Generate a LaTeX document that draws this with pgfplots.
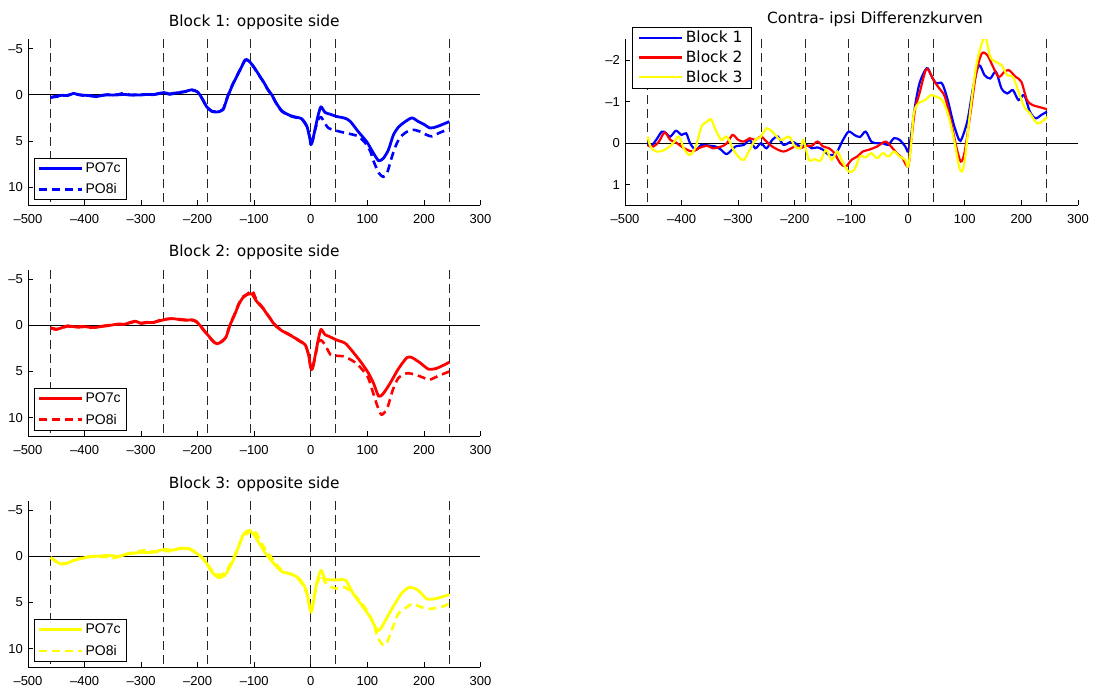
\documentclass[border=0pt]{standalone}
\usepackage{pgfplots}
\pgfplotsset{compat=1.18}
\usepackage{fontspec}
\setmainfont{Liberation Sans}
\newfontfamily\dejavu{DejaVu Sans}

\definecolor{mblue}{RGB}{0,0,255}
\definecolor{mred}{RGB}{255,0,0}
\definecolor{myellow}{RGB}{255,255,0}

\pgfplotsset{
  erp/.style={
    scale only axis, height=166pt,
    xmin=-500, xmax=300, y dir=reverse,
    axis x line*=bottom, axis y line*=left,
    tick align=inside, major tick length=5pt,
    xtick={-500,-400,-300,-200,-100,0,100,200,300},
    xticklabels={–500,–400,–300,–200,–100,0,100,200,300},
    tick label style={font=\fontsize{13}{13}\selectfont, inner sep=0pt},
    xticklabel shift=9pt, yticklabel shift=5pt,
    axis line style={line width=0.8pt},
    every tick/.style={black, line width=0.8pt},
    title style={font=\dejavu\fontsize{15.4}{16}\selectfont, anchor=base, at={(0.5,1)}, yshift=7pt},
    legend cell align=left,
    legend image code/.code={\draw[##1] (0pt,0pt) -- (43pt,0pt);},
  },
  single/.style={
    erp, width=452.5pt, ymin=-6, ymax=12,
    ytick={-5,0,5,10}, yticklabels={–5,0,5,10},
    legend style={at={(0.013,0.033)}, anchor=south west, draw=black, line width=0.8pt,
      font=\fontsize{14}{14}\selectfont, inner xsep=3pt, inner ysep=2pt, row sep=4.5pt,
      nodes={inner sep=2.5pt}},
  },
  vline/.style={black!85, line width=0.8pt, dash pattern=on 9pt off 5pt, forget plot},
  zline/.style={black, line width=0.8pt, forget plot},
  cc/.style={line width=2.8pt, line join=round},
  ci/.style={line width=2.6pt, dash pattern=on 8pt off 5pt, line join=round},
}

% event markers and reference lines, shared by every panel
\newcommand{\markers}[2]{%
  \addplot[zline] coordinates {(-500,0) (300,0)};
  \addplot[vline] coordinates {(-460,#1) (-460,#2)};
  \addplot[vline] coordinates {(-260,#1) (-260,#2)};
  \addplot[vline] coordinates {(-182,#1) (-182,#2)};
  \addplot[vline] coordinates {(-106,#1) (-106,#2)};
  \addplot[vline] coordinates {(0,#1) (0,#2)};
  \addplot[vline] coordinates {(44,#1) (44,#2)};
  \addplot[vline] coordinates {(245,#1) (245,#2)};
}

\begin{document}
\begin{tikzpicture}
\path[use as bounding box] (0pt,0pt) rectangle (1095pt,688pt);

% ---------------- Block 1 ----------------
\begin{axis}[single, at={(28pt,482.5pt)}, anchor=south west, title={Block 1: opposite side}]
\markers{-6}{12}
\addplot[cc, mblue, smooth, tension=0.4] coordinates {
(-460,0.3)(-450,0.15)(-440,0.05)(-430,0.08)(-420,-0.15)(-410,-0.02)(-400,0.05)(-390,0.08)(-380,0.2)(-370,0.08)(-360,0.0)(-350,0.03)(-340,0.0)(-330,-0.05)(-320,0.02)(-310,0.0)(-300,0.02)(-290,-0.05)(-280,-0.02)(-270,-0.1)(-260,-0.25)(-250,-0.1)(-240,-0.2)(-230,-0.25)(-220,-0.4)(-210,-0.55)(-200,-0.3)(-192,0.4)(-184,1.3)(-175,1.8)(-165,1.85)(-155,1.6)(-147,0.2)(-137,-1.25)(-125,-2.7)(-116,-3.8)(-110,-3.7)(-101,-3.05)(-92,-2.2)(-84,-1.45)(-76,-0.6)(-69,0.0)(-60,1.0)(-51,1.75)(-40,2.15)(-31,2.35)(-16,2.6)(-7,3.4)(-2,4.6)(0,5.4)(3,5.0)(8,3.6)(13,2.2)(18,1.3)(25,1.9)(34,2.1)(46,2.35)(61,2.55)(70,2.9)(84,4.0)(99,5.1)(111,6.35)(120,7.15)(128,6.9)(137,6.0)(146,4.35)(155,3.5)(167,2.9)(179,2.5)(190,2.9)(200,3.2)(211,3.6)(223,3.45)(245,2.9)
};
\addlegendentry{PO7c}
\addplot[ci, mblue, smooth, tension=0.4] coordinates {
(-460,0.25)(-450,0.2)(-440,0.08)(-430,0.05)(-420,-0.1)(-410,0.0)(-400,0.1)(-390,0.12)(-380,0.15)(-370,0.05)(-360,-0.02)(-350,0.0)(-340,-0.05)(-330,-0.2)(-320,0.0)(-310,0.02)(-300,-0.02)(-290,-0.05)(-280,0.0)(-270,-0.15)(-260,-0.2)(-250,-0.05)(-240,-0.15)(-230,-0.3)(-220,-0.35)(-210,-0.5)(-200,-0.3)(-192,0.45)(-184,1.3)(-175,1.75)(-165,1.8)(-155,1.55)(-147,0.15)(-137,-1.3)(-125,-2.75)(-116,-3.75)(-110,-3.65)(-101,-3.0)(-92,-2.15)(-84,-1.4)(-76,-0.55)(-69,0.05)(-60,1.05)(-51,1.8)(-40,2.2)(-31,2.4)(-16,2.65)(-7,3.45)(-2,4.6)(0,5.35)(3,5.0)(8,3.7)(13,2.7)(18,2.4)(25,3.1)(31,3.6)(40,3.8)(52,4.0)(70,4.25)(84,4.5)(96,5.2)(105,6.1)(111,7.2)(120,8.45)(128,8.9)(135,8.45)(144,6.6)(150,5.55)(158,4.6)(170,4.0)(182,3.8)(194,4.0)(205,4.35)(214,4.5)(228,4.1)(245,3.7)
};
\addlegendentry{PO8i}
\end{axis}

% ---------------- Block 2 ----------------
\begin{axis}[single, at={(28pt,252pt)}, anchor=south west, title={Block 2: opposite side}]
\markers{-6}{12}
\addplot[cc, mred, smooth, tension=0.4] coordinates {
(-460,0.3)(-450,0.45)(-440,0.25)(-430,0.05)(-420,0.15)(-410,0.2)(-400,0.15)(-390,0.2)(-380,0.22)(-370,0.12)(-360,0.05)(-350,-0.05)(-340,-0.15)(-330,-0.1)(-320,-0.3)(-310,-0.45)(-300,-0.2)(-290,-0.3)(-280,-0.3)(-270,-0.45)(-260,-0.6)(-250,-0.72)(-240,-0.7)(-230,-0.6)(-220,-0.55)(-210,-0.6)(-203,-0.45)(-196,0.0)(-188,0.6)(-180,1.2)(-172,1.75)(-166,2.0)(-158,1.8)(-150,1.3)(-143,0.0)(-135,-1.1)(-127,-2.3)(-120,-3.0)(-112,-3.35)(-104,-3.4)(-97,-2.7)(-90,-2.2)(-84,-1.8)(-75,-1.0)(-63,0.0)(-52,0.55)(-42,0.9)(-30,1.3)(-19,1.75)(-10,2.1)(-4,3.2)(0,4.65)(3,4.7)(8,3.2)(13,1.6)(18,0.45)(25,1.0)(34,1.25)(46,1.6)(61,1.95)(76,3.0)(90,4.1)(102,5.2)(111,6.3)(120,7.7)(128,7.4)(140,6.3)(155,4.7)(170,3.5)(179,3.5)(194,4.1)(208,4.75)(223,4.65)(245,4.0)
};
\addlegendentry{PO7c}
\addplot[ci, mred, smooth, tension=0.4] coordinates {
(-460,0.25)(-450,0.4)(-440,0.3)(-430,0.1)(-420,0.2)(-410,0.15)(-400,0.1)(-390,0.25)(-380,0.2)(-370,0.1)(-360,0.0)(-350,-0.1)(-340,-0.1)(-330,-0.15)(-320,-0.25)(-310,-0.4)(-300,-0.25)(-290,-0.35)(-280,-0.25)(-270,-0.5)(-260,-0.65)(-250,-0.7)(-240,-0.75)(-230,-0.65)(-220,-0.6)(-210,-0.55)(-203,-0.4)(-196,0.05)(-188,0.65)(-180,1.25)(-172,1.8)(-166,2.0)(-158,1.75)(-150,1.25)(-143,-0.05)(-135,-1.2)(-127,-2.4)(-120,-3.1)(-112,-3.4)(-104,-3.8)(-97,-2.9)(-90,-2.3)(-84,-1.85)(-75,-1.05)(-63,-0.05)(-52,0.5)(-42,0.85)(-30,1.25)(-19,1.7)(-10,2.05)(-4,3.2)(0,4.6)(3,4.65)(8,3.3)(13,1.9)(18,1.6)(25,2.1)(35,3.2)(45,3.3)(60,3.4)(80,4.1)(100,5.5)(110,7.3)(118,8.8)(125,9.7)(135,9.0)(145,7.0)(155,5.7)(170,5.2)(185,5.35)(200,5.7)(210,5.9)(225,5.5)(245,5.0)
};
\addlegendentry{PO8i}
\end{axis}

% ---------------- Block 3 ----------------
\begin{axis}[single, at={(28pt,21pt)}, anchor=south west, title={Block 3: opposite side}]
\markers{-6}{12}
\addplot[cc, myellow, smooth, tension=0.4] coordinates {
(-460,0.15)(-450,0.6)(-440,0.85)(-430,0.75)(-420,0.45)(-410,0.3)(-400,0.15)(-390,0.05)(-380,0.0)(-370,-0.05)(-360,-0.1)(-350,-0.05)(-340,0.0)(-330,-0.15)(-320,-0.3)(-310,-0.35)(-300,-0.45)(-290,-0.4)(-280,-0.45)(-270,-0.6)(-260,-0.75)(-250,-0.7)(-240,-0.7)(-230,-0.9)(-222,-0.85)(-215,-0.8)(-205,-0.45)(-195,0.0)(-185,0.7)(-175,1.7)(-163,2.3)(-152,2.05)(-140,0.8)(-130,-0.65)(-120,-2.3)(-110,-2.8)(-100,-2.3)(-90,-1.3)(-80,-0.3)(-70,0.45)(-60,1.15)(-50,1.7)(-35,1.9)(-20,2.45)(-8,3.7)(0,6.05)(4,5.15)(10,3.0)(18,1.5)(25,2.45)(35,2.55)(50,2.55)(62,2.6)(75,4.05)(90,5.3)(105,6.6)(118,8.05)(125,7.7)(140,6.05)(160,4.05)(175,3.35)(190,3.7)(205,4.6)(220,4.6)(245,4.15)
};
\addlegendentry{PO7c}
\addplot[ci, myellow, smooth, tension=0.4] coordinates {
(-460,0.1)(-450,0.55)(-440,0.8)(-430,0.7)(-420,0.5)(-410,0.25)(-400,0.1)(-390,0.0)(-380,-0.05)(-370,0.05)(-360,0.1)(-350,0.2)(-340,0.05)(-330,-0.2)(-320,-0.35)(-310,-0.5)(-300,-0.6)(-290,-0.7)(-280,-0.5)(-270,-0.45)(-260,-0.6)(-250,-0.55)(-240,-0.8)(-230,-0.85)(-222,-0.75)(-215,-0.85)(-205,-0.5)(-195,-0.05)(-185,0.6)(-175,1.5)(-163,2.0)(-152,1.8)(-140,0.6)(-130,-0.8)(-120,-2.1)(-110,-2.6)(-103,-2.95)(-95,-2.4)(-85,-1.2)(-75,-0.3)(-65,0.5)(-55,1.3)(-45,1.75)(-35,1.95)(-20,2.6)(-8,3.9)(0,6.0)(4,5.2)(10,3.2)(18,2.0)(25,2.8)(30,3.15)(45,3.5)(60,3.35)(75,4.05)(95,5.5)(110,7.1)(118,8.75)(128,9.65)(135,9.3)(145,7.7)(155,6.2)(170,5.5)(180,5.15)(195,5.5)(210,5.7)(230,5.5)(245,5.15)
};
\addlegendentry{PO8i}
\end{axis}

% ---------------- difference waves ----------------
\begin{axis}[erp, at={(625pt,482.5pt)}, anchor=south west, width=453pt,
  ymin=-2.5, ymax=1.5, ytick={-2,-1,0,1}, yticklabels={–2,–1,0,1},
  title={Contra- ipsi Differenzkurven}, title style={at={(0.552,1)}, yshift=2.5pt},
  legend style={at={(0.0148,1.077)}, anchor=north west, draw=black, line width=0.8pt, fill=white,
    font=\dejavu\fontsize{15.5}{15.5}\selectfont, inner xsep=6pt, inner ysep=1.5pt, row sep=1.5pt,
    nodes={inner sep=2.5pt}}]
\markers{-2.5}{1.5}
\addplot[mblue, line width=2.2pt, smooth, tension=0.5] coordinates {
(-460,0.0)(-455,0.08)(-445,-0.08)(-435,-0.28)(-428,-0.25)(-420,-0.16)(-410,-0.3)(-400,-0.2)(-392,-0.24)(-385,0.0)(-375,0.16)(-365,0.04)(-350,0.06)(-340,0.08)(-330,0.16)(-320,0.26)(-305,0.08)(-290,0.04)(-280,-0.08)(-270,0.12)(-260,0.0)(-250,0.12)(-240,-0.08)(-230,-0.16)(-220,0.04)(-205,-0.04)(-190,0.08)(-180,0.04)(-170,0.12)(-160,0.1)(-150,0.16)(-140,0.28)(-130,0.27)(-125,0.2)(-115,-0.08)(-105,-0.28)(-95,-0.2)(-85,-0.15)(-75,-0.28)(-65,-0.04)(-55,0.0)(-45,0.0)(-35,0.04)(-25,-0.12)(-15,-0.08)(-5,0.08)(0,0.2)(5,-0.16)(12,-0.88)(20,-1.44)(30,-1.76)(35,-1.8)(42,-1.6)(50,-1.44)(60,-1.44)(70,-1.04)(80,-0.48)(90,-0.08)(95,-0.12)(105,-0.56)(115,-1.36)(125,-1.88)(135,-1.64)(145,-1.56)(155,-1.72)(165,-1.32)(175,-1.2)(185,-1.28)(195,-1.04)(205,-1.16)(215,-0.76)(225,-0.6)(235,-0.68)(245,-0.76)
};
\addlegendentry{Block 1}
\addplot[mred, line width=2.2pt, smooth, tension=0.5] coordinates {
(-460,0.05)(-450,0.08)(-440,-0.04)(-430,-0.26)(-420,-0.08)(-410,-0.02)(-400,0.08)(-390,0.16)(-380,0.2)(-370,0.12)(-355,0.06)(-345,0.12)(-330,0.08)(-320,0.0)(-310,-0.2)(-300,-0.08)(-290,-0.04)(-280,-0.12)(-270,-0.08)(-260,-0.16)(-250,-0.04)(-240,0.08)(-220,0.2)(-200,0.08)(-190,0.12)(-180,0.06)(-170,0.06)(-160,-0.04)(-150,0.08)(-140,0.12)(-130,0.24)(-120,0.48)(-110,0.56)(-100,0.4)(-90,0.32)(-80,0.2)(-70,0.16)(-55,0.08)(-40,-0.04)(-30,0.08)(-20,0.24)(-10,0.36)(0,0.56)(5,0.0)(12,-0.8)(20,-1.2)(30,-1.72)(35,-1.78)(45,-1.52)(55,-1.32)(65,-1.12)(75,-0.56)(85,0.08)(93,0.44)(100,0.2)(110,-0.72)(120,-1.68)(130,-2.16)(140,-2.12)(150,-1.84)(160,-1.6)(170,-1.72)(178,-1.76)(190,-1.6)(200,-1.48)(210,-1.04)(220,-0.92)(235,-0.86)(245,-0.82)
};
\addlegendentry{Block 2}
\addplot[myellow, line width=2.2pt, smooth, tension=0.5] coordinates {
(-460,-0.16)(-455,0.08)(-445,0.2)(-430,0.16)(-415,0.0)(-405,-0.16)(-395,0.16)(-385,0.28)(-375,0.08)(-365,-0.4)(-355,-0.52)(-348,-0.58)(-340,-0.32)(-330,-0.08)(-320,-0.16)(-310,0.12)(-300,0.32)(-290,0.4)(-280,0.16)(-270,-0.08)(-260,-0.16)(-250,-0.36)(-240,-0.28)(-225,-0.08)(-210,-0.16)(-200,0.08)(-190,0.12)(-185,-0.08)(-175,0.4)(-165,0.38)(-155,0.42)(-145,0.16)(-135,0.4)(-125,0.2)(-115,0.48)(-105,0.68)(-95,0.64)(-85,0.32)(-75,0.34)(-65,0.24)(-55,0.36)(-45,0.24)(-35,0.32)(-25,0.2)(-15,0.32)(-5,0.4)(0,0.56)(5,0.08)(10,-0.72)(18,-0.96)(30,-1.04)(40,-1.16)(50,-1.12)(60,-1.04)(70,-0.72)(80,-0.16)(90,0.56)(95,0.68)(100,0.4)(110,-0.8)(120,-1.84)(130,-2.4)(137,-2.55)(145,-2.08)(155,-1.96)(165,-1.88)(175,-1.64)(185,-1.6)(195,-1.24)(205,-0.88)(215,-0.72)(228,-0.48)(240,-0.56)(245,-0.64)
};
\addlegendentry{Block 3}
\end{axis}
\end{tikzpicture}
\end{document}
